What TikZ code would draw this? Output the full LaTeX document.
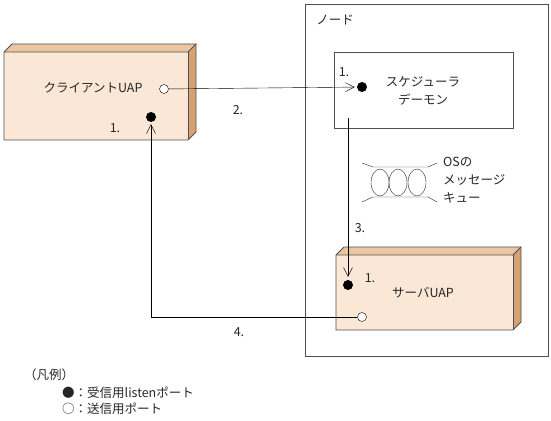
\documentclass[tikz,border=0pt]{standalone}
\usepackage{fontspec}
\setmainfont{Noto Sans CJK JP}
\usetikzlibrary{arrows.meta,positioning}
\definecolor{BoxFront}{RGB}{250,231,214}
\definecolor{BoxTop}{RGB}{236,198,163}
\definecolor{BoxSide}{RGB}{214,162,116}
\definecolor{LineGray}{RGB}{80,80,80}

\tikzset{
	lbl/.style={inner sep=0pt, font=\fontsize{12.5}{18}\selectfont, text=black!85},
	rxport/.style={circle, fill=black, inner sep=0pt, minimum size=10pt},
	txport/.style={circle, draw=black, fill=white, inner sep=0pt, minimum size=9pt},
	conn/.style={draw=black, -{Straight Barb[length=9pt,width=9pt]}},
	frame/.style={draw=LineGray, line width=0.8pt}
}

\begin{document}
\begin{tikzpicture}[x=1pt, y=-1pt]
		\useasboundingbox (0,0) rectangle (551,420);
		% node frame and scheduler
		\draw[frame] (305,4) rectangle (548,356);
		\node[lbl] (nodettl) at (335,20) {ノード};
		\draw[frame, fill=white] (334,52) rectangle (513,128);
		% client UAP box
		\fill[BoxTop] (4,52)--(12,44)--(196,44)--(188,52)--cycle;
		\fill[BoxSide] (188,52)--(196,44)--(196,132)--(188,140)--cycle;
		\fill[BoxFront] (4,52) rectangle (188,140);
		\draw[frame] (4,52)--(12,44)--(196,44)--(196,132)--(188,140)--(4,140)--cycle;
		\draw[frame] (4,52)--(188,52)--(196,44);
		\draw[frame] (188,52)--(188,140);
		% server UAP box
		\fill[BoxTop] (336,255)--(344,247)--(521,247)--(513,255)--cycle;
		\fill[BoxSide] (513,255)--(521,247)--(521,322)--(513,330)--cycle;
		\fill[BoxFront] (336,255) rectangle (513,330);
		\draw[frame] (336,255)--(344,247)--(521,247)--(521,322)--(513,330)--(336,330)--cycle;
		\draw[frame] (336,255)--(513,255)--(521,247);
		\draw[frame] (513,255)--(513,330);
		% labels
		\node[lbl] (cliname) at (93,88) {クライアントUAP};
		\node[lbl] (clinum) at (115,128) {1.};
		\node[lbl, align=center] (schname) at (423,91) {スケジューラ\\デーモン};
		\node[lbl] (schnum) at (344,72) {1.};
		\node[lbl] (srvname) at (423,293) {サーバUAP};
		\node[lbl] (srvnum) at (370,278) {1.};
		% ports
		\node[txport] (cliout) at (164,89) {};
		\node[rxport] (cliin) at (151,117) {};
		\node[rxport] (schin) at (362,87) {};
		\node[txport] (srvout) at (362,317) {};
		\node[rxport] (srvin) at (348,285) {};
		\coordinate (schout) at (348,118);
		% message queue
		\draw[black!85] (362,163)--(373,167)--(428,167)--(437,163);
		\draw[black!85] (362,202)--(373,197)--(428,197)--(437,202);
		\foreach \qx in {380,398,417}
			\draw[black!85] (\qx,182.5) ellipse (9 and 13.5);
		\node[lbl, align=left, anchor=north west] (queue) at (443,157) {OSの\\メッセージ\\キュー};
		% connectors
		\draw[conn, shorten >=2pt] (cliout) -- (schin);
		\draw[conn, shorten >=3pt] (schout) -- (srvin);
		\draw[conn, shorten >=2pt] (srvout) -| (cliin);
		\node[lbl] (step2) at (238,110) {2.};
		\node[lbl] (step3) at (360,228) {3.};
		\node[lbl] (step4) at (239,332) {4.};
		% legend
		\node[lbl, anchor=west] (legtitle) at (24,375) {（凡例）};
		\node[lbl, anchor=west] (legrx) at (62,393) {●：受信用listenポート};
		\node[lbl, anchor=west] (legtx) at (62,409) {○：送信用ポート};
	\end{tikzpicture}
\end{document}
